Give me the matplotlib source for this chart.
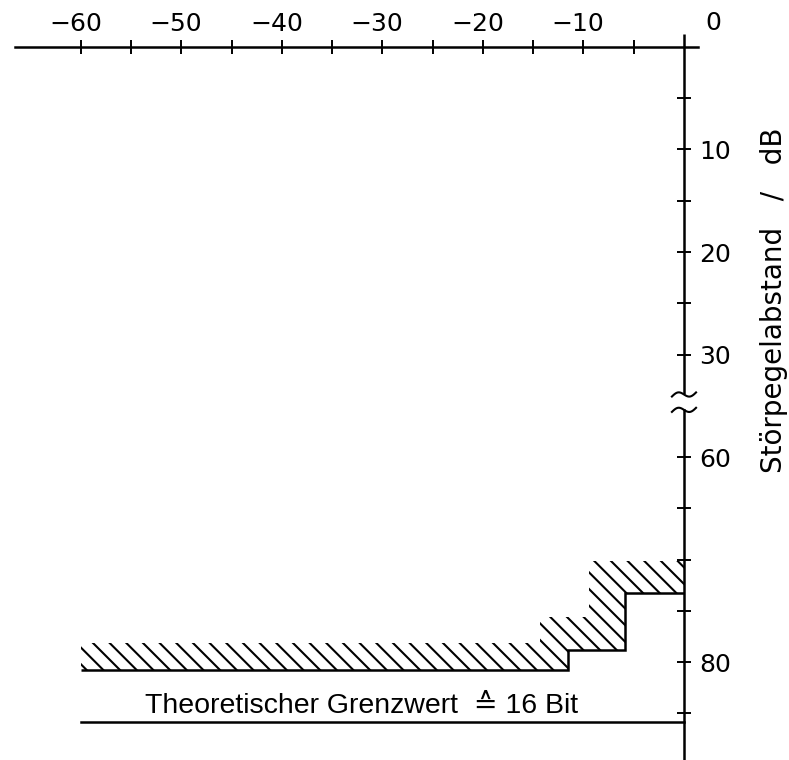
import numpy as np
import matplotlib
matplotlib.use("Agg")
import matplotlib.pyplot as plt
from matplotlib.transforms import ScaledTranslation

plt.rcParams['font.family'] = ['Liberation Sans', 'DejaVu Sans']
plt.rcParams['hatch.linewidth'] = 1.5

# level axis (top), dB
x_major = [-60, -50, -40, -30, -20, -10]
x_major_labels = ['\u221260', '\u221250', '\u221240', '\u221230', '\u221220', '\u221210']
x_minor = [-55, -45, -35, -25, -15, -5]

# Störpegelabstand axis (right), dB, with a break between 35 and 55
y_major = [10, 20, 30, 60, 80]
y_major_labels = ['10', '20', '30', '60', '80']
y_minor = [5, 15, 25, 65, 70, 75, 85]

# measured staircase (step edges / levels)
step_x = [-60, -11.5, -5.9, 0]
step_level = [80.8, 78.8, 73.3]

# upper edge of the hatched band
band_x = [-60, -14.3, -9.5, 0]
band_top = [78.1, 75.6, 70.1]

# theoretical limit for 16 bit
limit_level = 85.9

BRK_LO, BRK_HI = 34.6, 54.6


def fwd(v):
    v = np.asarray(v, dtype=float)
    return np.where(v <= BRK_LO, v, np.where(v >= BRK_HI, v - (BRK_HI - BRK_LO), BRK_LO))


def inv(d):
    d = np.asarray(d, dtype=float)
    return np.where(d <= BRK_LO, d, d + (BRK_HI - BRK_LO))


def level_at(xs, edges, levels):
    idx = np.searchsorted(edges, xs, side='right') - 1
    idx = np.clip(idx, 0, len(levels) - 1)
    return np.asarray(levels)[idx]


fig = plt.figure(figsize=(7.89, 7.6), dpi=100)
ax = fig.add_axes([0, 0, 1, 1])
ax.set_yscale('function', functions=(fwd, inv))
ax.set_xlim(-68.06, 10.45)
ax.set_ylim(89.56, -4.585)
ax.patch.set_alpha(0)

for s in ['left', 'bottom']:
    ax.spines[s].set_visible(False)
ax.spines['top'].set_position(('data', 0))
ax.spines['top'].set_bounds(-66.6, 1.4)
ax.spines['right'].set_position(('data', 0))
ax.spines['right'].set_bounds(55.4, 89.6)
for s in ['top', 'right']:
    ax.spines[s].set_linewidth(1.8)

# upper part of the broken vertical axis
ax.plot([0, 0], [-1.3, 33.9], color='black', lw=1.8, solid_capstyle='butt')

# break marks
t = np.linspace(-1, 1, 40)
for yc in [33.9, 55.4]:
    ax.plot(1.2 * t, yc + 0.3 * np.sin(np.pi * t) - 0.2 * t, color='black', lw=1.5)

ax.xaxis.set_ticks_position('top')
ax.yaxis.set_ticks_position('right')
ax.set_xticks(x_major, labels=x_major_labels)
ax.set_xticks(x_minor, minor=True)
ax.set_yticks(y_major, labels=y_major_labels)
ax.set_yticks(y_minor, minor=True)
ax.tick_params(which='both', direction='inout', length=10, width=1.4, colors='black')
ax.tick_params(axis='x', labelsize=18, pad=3, labelfontfamily='DejaVu Sans')
ax.tick_params(axis='y', labelsize=18, pad=6, labelfontfamily='DejaVu Sans')
shift = ScaledTranslation(-4 / 72, 0, fig.dpi_scale_trans)
for lab in ax.get_xticklabels():
    lab.set_transform(lab.get_transform() + shift)

ax.annotate('0', xy=(0, 0), xytext=(15.5, 12.2), textcoords='offset points',
            ha='left', va='baseline', fontsize=18, family='DejaVu Sans')

# hatched band above the staircase
xs = np.unique(np.concatenate([step_x, band_x]))
lower = level_at(xs, step_x, step_level)
upper = level_at(xs, band_x, band_top)
ax.fill_between(xs, upper, lower, step='post', facecolor='none',
                edgecolor='black', linewidth=0, hatch='\\\\')

# staircase
ax.stairs(step_level, step_x, baseline=None, color='black', lw=1.8)

# theoretical limit
ax.plot([step_x[0], 0], [limit_level, limit_level], color='black', lw=1.8)
ax.text(-32.1, 85.0, 'Theoretischer Grenzwert  \u2259 16 Bit', ha='center',
        va='baseline', fontsize=20.5)

ax.set_ylabel('Störpegelabstand   /   dB', fontsize=20, rotation=90,
              family='DejaVu Sans')
ax.yaxis.set_label_position('right')
ax.yaxis.label.set_verticalalignment('center')
ax.yaxis.label.set_horizontalalignment('center')
ax.yaxis.set_label_coords(0.981, 0.605)

fig.savefig('out.png', dpi=100)
